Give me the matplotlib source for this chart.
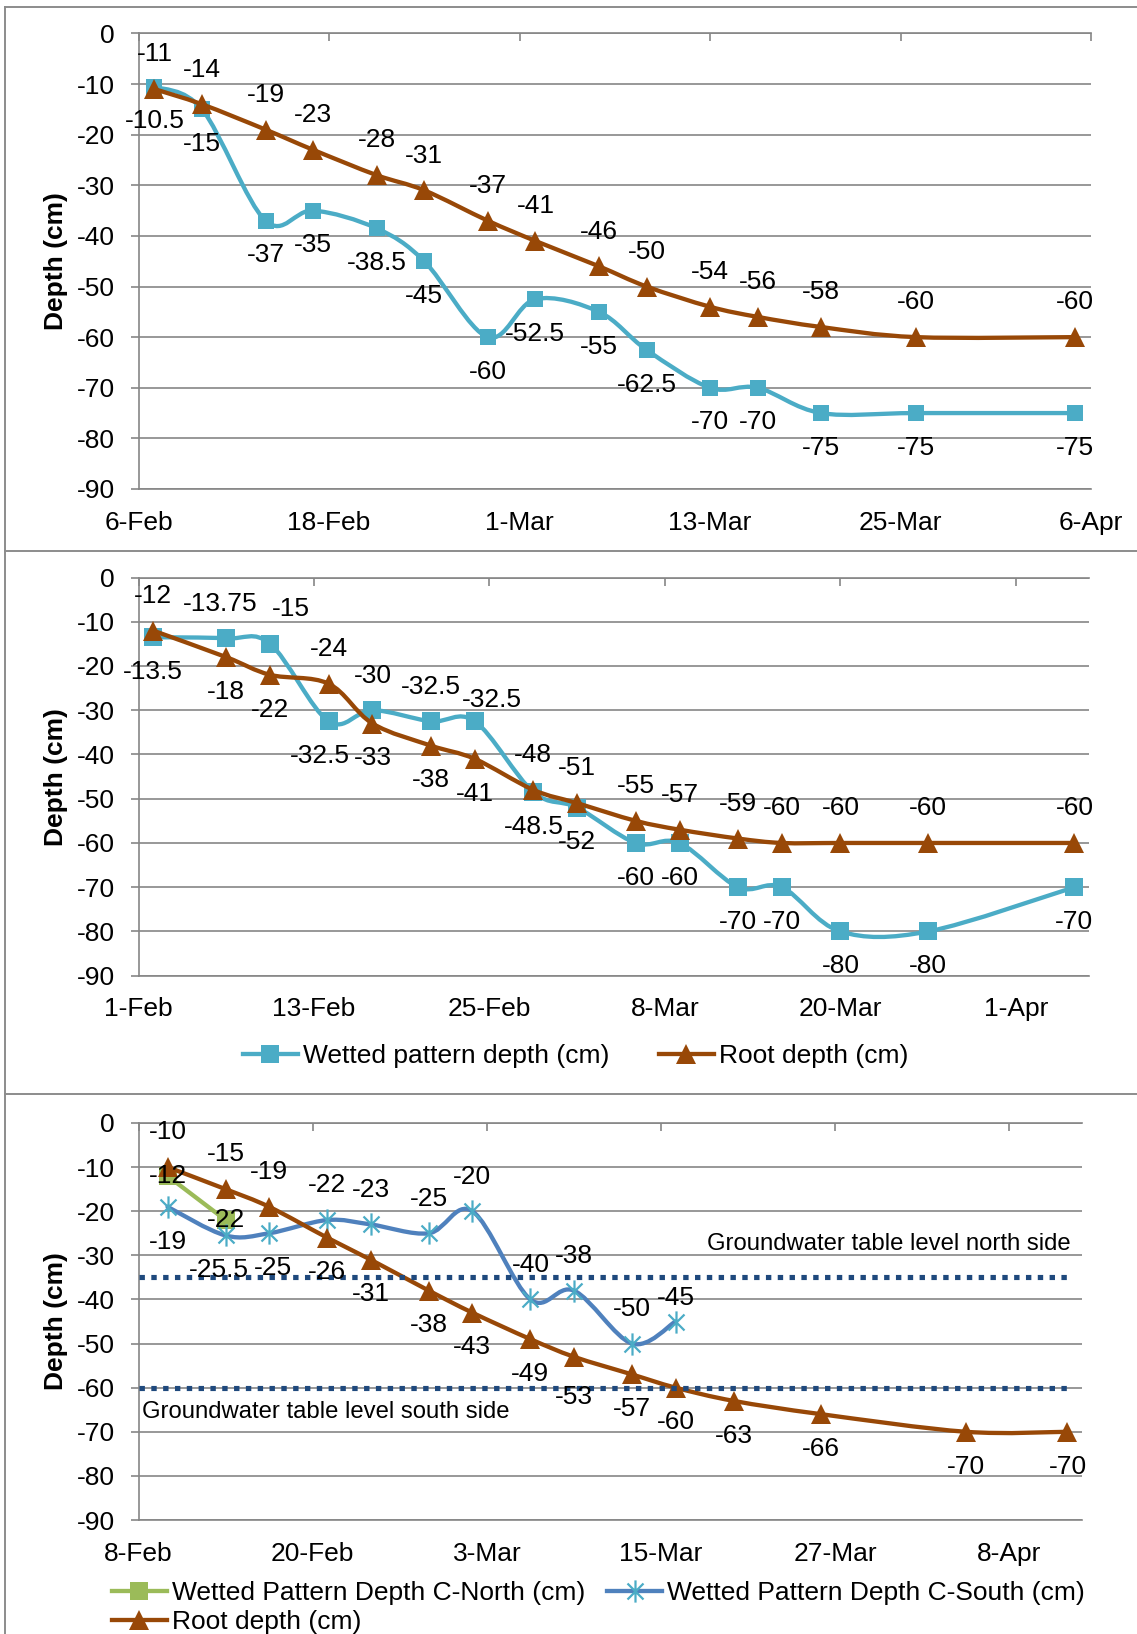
import numpy as np
import pandas as pd
import matplotlib
matplotlib.use('Agg')
import matplotlib.pyplot as plt
import matplotlib.dates as mdates
from matplotlib.path import Path
from matplotlib.patches import PathPatch
from matplotlib.lines import Line2D
from matplotlib.ticker import FuncFormatter

plt.rcParams['font.family'] = ['Liberation Sans', 'DejaVu Sans']
plt.rcParams['axes.unicode_minus'] = False

YEAR = '2016'

# ---- panel 1
dates_a = ['7-Feb', '10-Feb', '14-Feb', '17-Feb', '21-Feb', '24-Feb', '28-Feb', '2-Mar',
           '6-Mar', '9-Mar', '13-Mar', '16-Mar', '20-Mar', '26-Mar', '5-Apr']
wet_a = [-10.5, -15, -37, -35, -38.5, -45, -60, -52.5, -55, -62.5, -70, -70, -75, -75, -75]
root_a = [-11, -14, -19, -23, -28, -31, -37, -41, -46, -50, -54, -56, -58, -60, -60]

# ---- panel 2
dates_b = ['2-Feb', '7-Feb', '10-Feb', '14-Feb', '17-Feb', '21-Feb', '24-Feb', '28-Feb', '2-Mar',
           '6-Mar', '9-Mar', '13-Mar', '16-Mar', '20-Mar', '26-Mar', '5-Apr']
wet_b = [-13.5, -13.75, -15, -32.5, -30, -32.5, -32.5, -48.5, -52, -60, -60, -70, -70, -80, -80, -70]
root_b = [-12, -18, -22, -24, -33, -38, -41, -48, -51, -55, -57, -59, -60, -60, -60, -60]

# ---- panel 3
dates_c = ['10-Feb', '14-Feb', '17-Feb', '21-Feb', '24-Feb', '28-Feb', '2-Mar', '6-Mar',
           '9-Mar', '13-Mar', '16-Mar', '20-Mar', '26-Mar', '5-Apr', '12-Apr']
root_c = [-10, -15, -19, -26, -31, -38, -43, -49, -53, -57, -60, -63, -66, -70, -70]
north_c = [-12, -22]
south_c = [-19, -25.5, -25, -22, -23, -25, -20, -40, -38, -50, -45]
gw_dates = ['8-Feb', '12-Apr']
gw_north = [-35, -35]
gw_south = [-60, -60]

ranges = [('6-Feb', '6-Apr'), ('1-Feb', '6-Apr'), ('8-Feb', '13-Apr')]

CYAN = '#4BACC6'
BROWN = '#984807'
GREEN = '#9BBB59'
BLUE = '#4F81BD'
NAVY = '#1F497D'
GRID = '#868686'
FS = 19

W, H = 1137, 1634


def todate(lst):
    return mdates.date2num(pd.to_datetime([d + '-' + YEAR for d in lst], format='%d-%b-%Y'))


def smooth_path(x, y):
    pts = np.column_stack([x, y])
    n = len(pts)
    verts = [pts[0]]
    codes = [Path.MOVETO]
    for i in range(n - 1):
        p0 = pts[max(i - 1, 0)]
        p1 = pts[i]
        p2 = pts[i + 1]
        p3 = pts[min(i + 2, n - 1)]
        verts += [p1 + (p2 - p0) / 6, p2 - (p3 - p1) / 6, p2]
        codes += [Path.CURVE4] * 3
    return Path(verts, codes)


asterisk = Path([(0, -1), (0, 1), (-0.72, -0.72), (0.72, 0.72), (-0.72, 0.72), (0.72, -0.72)],
                [Path.MOVETO, Path.LINETO, Path.MOVETO, Path.LINETO, Path.MOVETO, Path.LINETO])


def series(ax, dates, vals, color, marker, ms, pos, z, mcolor=None, nudge=None, mew=0):
    x = todate(dates[:len(vals)])
    ax.add_patch(PathPatch(smooth_path(x, vals), facecolor='none', edgecolor=color, lw=3.1,
                           capstyle='round', joinstyle='round', zorder=z))
    mc = mcolor or color
    ax.plot(x, vals, ls='none', marker=marker, ms=ms, mfc=mc, mec=mc, mew=mew, zorder=z + 0.5)
    nudge = nudge or {}
    for i, (xi, v) in enumerate(zip(x, vals)):
        dy = {'a': 25, 'b': -25, 'c': 0}[pos[i]]
        ndx, ndy = nudge.get(i, (0, 0))
        ax.annotate(f'{v:g}', (xi, v), xytext=(ndx, dy + ndy), textcoords='offset points',
                    ha='center', va='center', fontsize=FS, color='black', zorder=10)


def fmt(v, p):
    d = mdates.num2date(v)
    return f"{d.day}-{d.strftime('%b')}"


fig = plt.figure(figsize=(W / 100, H / 100), dpi=100)

boxes = [(138.5, 1091, 33.4, 489), (138.5, 1089, 577.5, 975.7), (138.5, 1082, 1123, 1520)]
axes = []
for (l, r, t, b), (d0, d1) in zip(boxes, ranges):
    ax = fig.add_axes([l / W, 1 - b / H, (r - l) / W, (b - t) / H])
    x0, x1 = todate([d0, d1])
    ax.set_xlim(x0, x1)
    ax.set_ylim(-90, 0)
    ax.set_xticks(np.arange(x0, x1 + 0.5, 12))
    ax.xaxis.set_major_formatter(FuncFormatter(fmt))
    ax.set_yticks(range(-90, 1, 10))
    ax.tick_params(axis='x', top=True, bottom=False, labeltop=False, labelbottom=True,
                   direction='in', length=5.5, width=1.2, color=GRID, pad=15.5, labelsize=FS)
    ax.tick_params(axis='y', direction='out', length=5.5, width=1.2, color=GRID, pad=11.4,
                   labelsize=FS)
    ax.grid(axis='y', color=GRID, lw=1.2)
    ax.set_axisbelow(True)
    ax.spines['right'].set_visible(False)
    for s in ['left', 'top', 'bottom']:
        ax.spines[s].set_color(GRID)
        ax.spines[s].set_linewidth(1.2)
    fig.text(56.5 / W, 1 - (t + b) / 2 / H, 'Depth (cm)', rotation=90, ha='center', va='center',
             fontsize=FS, fontweight='bold')
    axes.append(ax)

ax1, ax2, ax3 = axes

# panel 1
series(ax1, dates_a, wet_a, CYAN, 's', 12, 'b' * 15, 3)
series(ax1, dates_a, root_a, BROWN, '^', 15, 'a' * 15, 4)

# panel 2
series(ax2, dates_b, wet_b, CYAN, 's', 13.5, 'baabaaabbbbbbbbb', 3,
       nudge={1: (-4, 0), 2: (15, 0), 3: (-6, 0), 6: (12, -10)})
series(ax2, dates_b, root_b, BROWN, '^', 15, 'abbabbbaaaaaaaaa', 4)
ax2.legend(handles=[Line2D([], [], color=CYAN, lw=3.1, marker='s', ms=13.5, mew=0),
                    Line2D([], [], color=BROWN, lw=3.1, marker='^', ms=15, mew=0)],
           labels=['Wetted pattern depth (cm)', 'Root depth (cm)'], ncol=2,
           loc='center left', bbox_to_anchor=(243 / W, 1 - 1056 / H), bbox_transform=fig.transFigure,
           frameon=False, borderpad=0, borderaxespad=0, fontsize=FS, handlelength=2.08,
           handletextpad=0.2, columnspacing=1.86)

# panel 3
series(ax3, dates_c, north_c, GREEN, 's', 13.5, 'cc', 3)
series(ax3, dates_c, south_c, BLUE, asterisk, 16, 'bbbaaaaaaaa', 4, mcolor=CYAN, mew=1.6,
       nudge={1: (-5, 0), 2: (3, 0), 10: (0, -8)})
series(ax3, dates_c, root_c, BROWN, '^', 15, 'aaa' + 'b' * 12, 5, nudge={8: (0, -4)})
gx = todate(gw_dates)
ax3.plot(gx, gw_north, color=NAVY, lw=3.7, ls=(0, (1.05, 1.25)), dash_capstyle='butt', zorder=7)
ax3.plot(gx, gw_south, color=NAVY, lw=3.7, ls=(0, (1.05, 1.25)), dash_capstyle='butt', zorder=7)
ax3.text(0.988, -27.4, 'Groundwater table level north side', transform=ax3.get_yaxis_transform(),
         ha='right', va='center', fontsize=17.2)
ax3.text(0.004, -65.5, 'Groundwater table level south side', transform=ax3.get_yaxis_transform(),
         ha='left', va='center', fontsize=17.2)
ax3.legend(handles=[Line2D([], [], color=GREEN, lw=3.1, marker='s', ms=13.5, mew=0),
                    Line2D([], [], color=BROWN, lw=3.1, marker='^', ms=15, mew=0),
                    Line2D([], [], color=BLUE, lw=3.1, marker=asterisk, ms=16, mfc=CYAN,
                           mec=CYAN, mew=1.6)],
           labels=['Wetted Pattern Depth C-North (cm)', 'Root depth (cm)',
                   'Wetted Pattern Depth C-South (cm)'], ncol=2,
           loc='center left', bbox_to_anchor=(112 / W, 1 - 1607.5 / H), bbox_transform=fig.transFigure,
           frameon=False, borderpad=0, borderaxespad=0, fontsize=FS, handlelength=2.08,
           handletextpad=0.2, columnspacing=0.83, labelspacing=0.2)

# chart frames
fc = '#8C8C8C'
fig.add_artist(Line2D([4.7 / W, 4.7 / W], [1 - 6.7 / H, 0], transform=fig.transFigure, color=fc, lw=1.4))
for yy in [6.7, 550.7, 1094.3]:
    fig.add_artist(Line2D([4.7 / W, 1], [1 - yy / H, 1 - yy / H], transform=fig.transFigure,
                          color=fc, lw=1.4))

fig.savefig('out.png', dpi=100)
